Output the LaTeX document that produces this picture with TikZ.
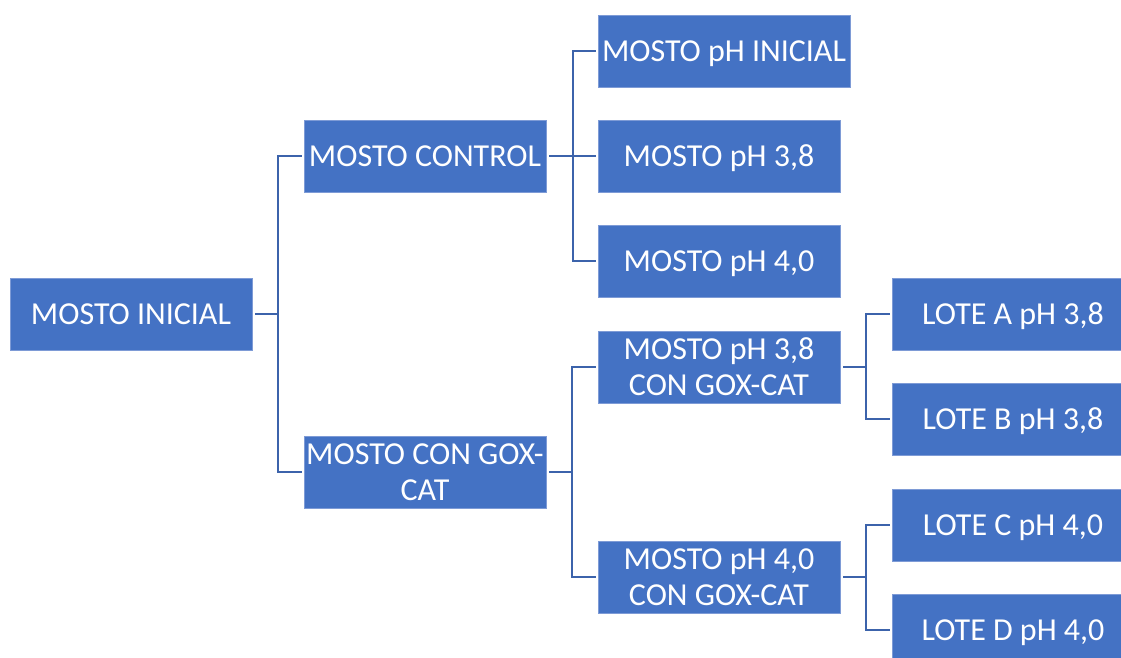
\documentclass[tikz,border=0pt]{standalone}
\usepackage{fontspec}
\setmainfont{Carlito}
\definecolor{boxblue}{HTML}{4472C4}
\definecolor{boxedge}{HTML}{7E9BD6}
\definecolor{linkblue}{HTML}{3C63AB}
\tikzset{
  stage/.style={fill=boxblue, draw=boxedge, line width=0.6pt, text=white,
    minimum width=242pt, minimum height=72pt, inner sep=0pt, align=center,
    text depth=0pt, font=\fontsize{32}{36}\selectfont},
  link/.style={draw=linkblue, line width=2.3pt, shorten <=3pt, shorten >=2pt}
}
\begin{document}
\begin{tikzpicture}[x=1pt,y=-1pt]
\useasboundingbox (0,0) rectangle (1121,657);
\clip (0,0) rectangle (1121,657);

% level 0 and 1
\node[stage] (ini)  at (131,314) {MOSTO INICIAL};
\node[stage] (ctrl) at (425,156) {MOSTO CONTROL};
\node[stage] (gox)  at (425,472) {MOSTO CON GOX-\\CAT};

% level 2
\node[stage, minimum width=252pt] (phini) at (724,51) {MOSTO pH INICIAL};
\node[stage] (ph38) at (719,156) {MOSTO pH 3,8};
\node[stage] (ph40) at (719,261) {MOSTO pH 4,0};
\node[stage] (g38)  at (719,367) {MOSTO pH 3,8\\CON GOX-CAT};
\node[stage] (g40)  at (719,577) {MOSTO pH 4,0\\CON GOX-CAT};

% level 3
\node[stage] (la) at (1013,314) {LOTE A pH 3,8};
\node[stage] (lb) at (1013,419) {LOTE B pH 3,8};
\node[stage] (lc) at (1013,525) {LOTE C pH 4,0};
\node[stage] (ld) at (1013,630) {LOTE D pH 4,0};

% branching points
\coordinate (t0) at (278,314);
\coordinate (t1) at (573,156);
\coordinate (t2) at (572,472);
\coordinate (t3) at (866,367);
\coordinate (t4) at (866,577);

% connectors
\draw[link] (ini.east) -- (t0) |- (ctrl.west);
\draw[link] (ini.east) -- (t0) |- (gox.west);

\draw[link] (ctrl.east) -- (t1) |- (phini.west);
\draw[link] (ctrl.east) -- (ph38.west);
\draw[link] (ctrl.east) -- (t1) |- (ph40.west);

\draw[link] (gox.east) -- (t2) |- (g38.west);
\draw[link] (gox.east) -- (t2) |- (g40.west);

\draw[link] (g38.east) -- (t3) |- (la.west);
\draw[link] (g38.east) -- (t3) |- (lb.west);

\draw[link] (g40.east) -- (t4) |- (lc.west);
\draw[link] (g40.east) -- (t4) |- (ld.west);
\end{tikzpicture}
\end{document}
